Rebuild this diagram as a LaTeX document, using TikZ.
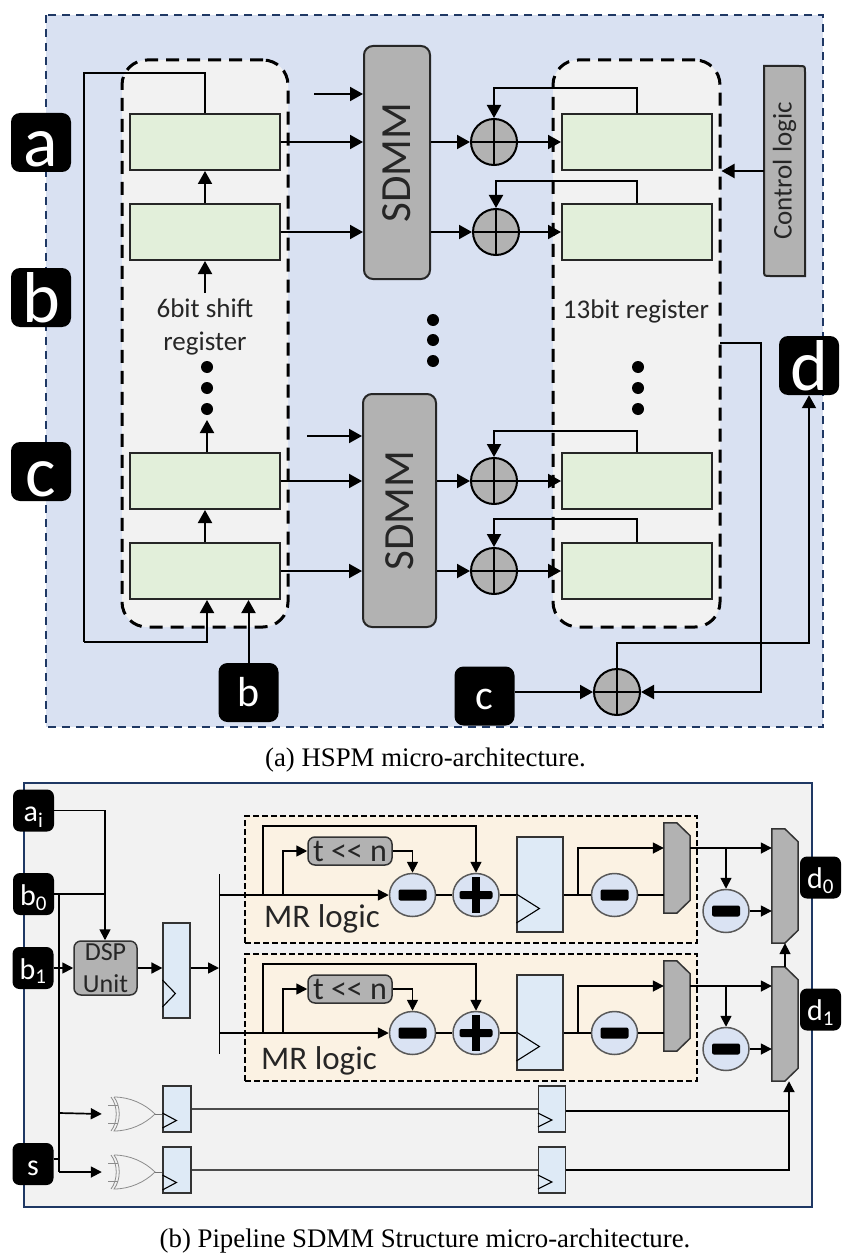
\documentclass[tikz,border=0pt]{standalone}
\usepackage{fontspec}
\setmainfont{Carlito}
\newfontfamily\capfont{Liberation Serif}
\usetikzlibrary{arrows.meta,shapes.geometric}
\definecolor{hspmbg}{HTML}{D9E1F2}
\definecolor{panelbg}{HTML}{F2F2F2}
\definecolor{greenreg}{HTML}{E2EFDA}
\definecolor{grayunit}{HTML}{B2B2B2}
\definecolor{navyline}{HTML}{1F3864}
\definecolor{bluereg}{HTML}{DEEAF6}
\definecolor{mrbg}{HTML}{FBF2E3}
\definecolor{subfill}{HTML}{DAE3F3}
\tikzset{
  arr/.style={-{Triangle[length=13pt,width=14pt]},line width=2pt},
  arrb/.style={-{Triangle[length=11pt,width=11pt]},line width=1.7pt},
  lineb/.style={line width=1.7pt},
  container/.style={draw,fill=panelbg,line width=3pt,dash pattern=on 13pt off 8pt,rounded corners=25pt},
  regbox/.style={draw=black!85,fill=greenreg,line width=2pt,minimum width=150,minimum height=56,inner sep=0},
  sdmmbox/.style={draw=black!85,fill=grayunit,line width=2pt,rounded corners=9pt,inner sep=0},
  adder/.style={circle,draw,fill=grayunit,line width=2pt,minimum size=46,inner sep=0,
    path picture={\draw[line width=2pt] (path picture bounding box.north) -- (path picture bounding box.south)
      (path picture bounding box.west) -- (path picture bounding box.east);}},
  tagbig/.style={fill=black,rounded corners=9pt,text=white,inner sep=0,minimum width=60,text height=54,text depth=5,
    font=\fontsize{72}{72}\selectfont},
  tagmid/.style={fill=black,rounded corners=9pt,text=white,inner sep=0,minimum width=60,text height=43,text depth=16,
    font=\fontsize{42}{42}\selectfont},
  tagsmall/.style={fill=black,rounded corners=7pt,text=white,inner sep=0,minimum width=41,text height=32,text depth=10,
    font=\fontsize{30}{30}\selectfont},
  bigdot/.style={circle,fill=black,inner sep=0,minimum size=12},
  txtlab/.style={inner sep=0,text=black!85,font=\fontsize{27}{33}\selectfont,align=center},
  sdmmtxt/.style={inner sep=0,text=black!85,rotate=90,font=\fontsize{43}{43}\selectfont},
  caplab/.style={inner sep=0,font=\capfont\fontsize{26.8}{26.8}\selectfont},
  pipereg/.style={draw=black!80,fill=bluereg,line width=1.2pt,inner sep=0},
  clockmark/.style={draw=black,line width=1.1pt},
  subtr/.style={ellipse,draw=black!65,fill=subfill,line width=1.5pt,minimum width=46,minimum height=43,inner sep=0,
    path picture={\fill[black,rounded corners=2pt] ([xshift=-14pt,yshift=-5.5pt]path picture bounding box.center) rectangle ++(28pt,11pt);}},
  addb/.style={subtr,
    path picture={\fill[black,rounded corners=2pt] ([xshift=-16.5pt,yshift=-4pt]path picture bounding box.center) rectangle ++(33pt,8pt);
      \fill[black] ([xshift=-4pt,yshift=-18pt]path picture bounding box.center) rectangle ++(8pt,36pt);}},
  mrbox/.style={draw,fill=mrbg,line width=2pt,dash pattern=on 6pt off 3pt,minimum width=452,minimum height=127,inner sep=0},
  unitb/.style={draw=black!80,fill=grayunit,line width=1.5pt,rounded corners=7pt,inner sep=0},
  ghost/.style={inner sep=0,minimum width=26},
  muxfill/.style={draw=black!80,fill=grayunit,line width=1.5pt},
  xorline/.style={draw=black!45,line width=0.8pt},
}
\newcommand{\chamfer}[1]{\draw[muxfill] (#1.north west) -- ([xshift=13pt]#1.north west) -- ([yshift=-13pt]#1.north east)
  -- ([yshift=13pt]#1.south east) -- ([xshift=13pt]#1.south west) -- (#1.south west) -- cycle;}
\newcommand{\xorgate}[1]{\begin{scope}[shift={(#1)}]
    \draw[xorline] (-19,-17) .. controls (-3,-17) and (12,-10) .. (22,0) .. controls (12,10) and (-3,17) .. (-19,17)
      .. controls (-12,8) and (-12,-8) .. (-19,-17);
    \draw[xorline] (-22,-17) .. controls (-15,-8) and (-15,8) .. (-22,17);
    \draw[xorline] (-25,-9) -- (-15,-9) (-25,9) -- (-15,9);
  \end{scope}}
\begin{document}
\begin{tikzpicture}[x=1pt,y=-1pt]
  \useasboundingbox (0,0) rectangle (846,1257);

  \draw[draw=navyline,fill=hspmbg,line width=1.5pt,dash pattern=on 8pt off 6pt] (46,15) rectangle (823,727);
  \node[container,minimum width=166,minimum height=567,inner sep=0] (srbox) at (205,343.5) {};
  \node[container,minimum width=167,minimum height=567,inner sep=0] (crbox) at (636.5,343.5) {};

  \foreach \n/\y in {1/142,2/232,3/481,4/571}{
    \node[regbox] (lreg\n) at (205,\y) {};
    \node[regbox] (rreg\n) at (637,\y) {};
  }
  \node[sdmmbox,minimum width=66,minimum height=233] (sdmma) at (397,162.5) {};
  \node[sdmmbox,minimum width=73,minimum height=233] (sdmmb) at (399.5,510.5) {};
  \node[sdmmtxt] (sdmmatxt) at (sdmma.center) {SDMM};
  \node[sdmmtxt] (sdmmbtxt) at (sdmmb.center) {SDMM};
  \node[adder] (add1) at (494,142) {};
  \node[adder] (add2) at (496,232) {};
  \node[adder] (add3) at (494,481) {};
  \node[adder] (add4) at (494,571) {};
  \node[adder] (addout) at (617,692) {};

  \draw[draw=black!85,fill=grayunit,line width=2pt] (764,66) -- (799,66) .. controls (805,66) .. (805,72)
    -- (805,276) -- (770,276) .. controls (764,276) .. (764,270) -- cycle;
  \node[inner sep=0,minimum width=41,minimum height=210] (ctrl) at (784.5,171) {};
  \node[txtlab,rotate=90] (ctrltxt) at (ctrl.center) {Control logic};

  \node[txtlab] (srlabel) at (205,327) {6bit shift\\register};
  \node[txtlab] (crlabel) at (636,311) {13bit register};
  \foreach \n/\y in {1/367,2/388,3/409}{
    \node[bigdot] (ldot\n) at (207,\y) {};
    \node[bigdot] (rdot\n) at (638,\y) {};
  }
  \foreach \n/\y in {1/320,2/340,3/361}{
    \node[bigdot] (mdot\n) at (433,\y) {};
  }

  \coordinate (srtail) at (205,293);
  \coordinate (dottail) at (207,420);
  \coordinate (stuba) at (314,94);
  \coordinate (stubb) at (307,436);
  \coordinate (feedturn) at (84,642);
  \coordinate (crout) at (720,343);

  \node[tagbig] (taga) at (41,142.5) {a};
  \node[tagbig] (tagb) at (41,297.5) {b};
  \node[tagbig] (tagc) at (41,471.5) {c};
  \node[tagbig] (tagd) at (809,365.5) {d};
  \node[tagmid] (tagbin) at (248.5,692.5) {b};
  \node[tagmid] (tagcin) at (484.5,696) {c};

  \draw[arr] (lreg2.north) -- (lreg1.south);
  \draw[arr] (lreg4.north) -- (lreg3.south);
  \draw[arr] (srtail) -- (lreg2.south);
  \draw[arr] (lreg3.north -| dottail) -- (dottail);
  \foreach \n in {1,2}{
    \draw[arr] (lreg\n.east) -- (lreg\n.east -| sdmma.west);
    \draw[arr] (add\n -| sdmma.east) -- (add\n.west);
  }
  \foreach \n in {3,4}{
    \draw[arr] (lreg\n.east) -- (lreg\n.east -| sdmmb.west);
    \draw[arr] (add\n -| sdmmb.east) -- (add\n.west);
  }
  \foreach \n/\off in {1/25,2/22,3/21,4/23}{
    \draw[arr] (add\n.east) -- (rreg\n.west);
    \draw[arr] (rreg\n.north) -- ++(0,-\off) -| (add\n.north);
  }
  \draw[arr] (stuba) -- (stuba -| sdmma.west);
  \draw[arr] (stubb) -- (stubb -| sdmmb.west);
  \draw[line width=2pt] (lreg1.north) -- ++(0,-40) -| (feedturn);
  \draw[arr] (feedturn) -| ([xshift=2pt]lreg4.south);
  \draw[arr] (tagbin.north) -- (tagbin.north |- lreg4.south);
  \draw[arr] (ctrl.west) -- (crbox.east |- ctrl.west);
  \draw[arr] (crout) -| (761,692) -- (addout.east);
  \draw[arr] (tagcin.east |- addout) -- (addout.west);
  \draw[arr] (addout.north) -- ++(0,-25) -| (tagd.south);

  \draw[navyline,fill=panelbg,line width=1.5pt] (24,783) rectangle (812,1207);

  \foreach \n/\d/\tx/\ty in {a/0/322/919,b/138/319/923}{
    \begin{scope}[shift={(0,\d)}]
      \node[mrbox] (mr\n) at (471,879.5) {};
      \node[unitb,minimum width=84,minimum height=28] (shift\n) at (350,851) {};
      \node[inner sep=0,font=\fontsize{32}{32}\selectfont,text=black!85] (shifttxt\n) at (350,851) {t \mbox{<}\mbox{<} n};
      \node[inner sep=0,font=\fontsize{33}{33}\selectfont,text=black!85] (mrtxt\n) at (\tx,\ty) {MR logic};
      \node[subtr] (suba\n) at (412.5,895) {};
      \node[addb] (adda\n) at (476,895) {};
      \node[pipereg,minimum width=46,minimum height=95] (reg\n) at (540,884.5) {};
      \node[subtr] (subb\n) at (614.5,895) {};
      \node[ghost,minimum height=90] (mux\n) at (677,868) {};
      \node[ghost,minimum height=114] (bigmux\n) at (785,886) {};
      \node[subtr] (subc\n) at (726,911) {};
      \chamfer{mux\n}
      \chamfer{bigmux\n}
      \draw[clockmark] (reg\n.west |- 0,894) -- ++(23,14.5) -- ++(-23,14.5);
      \coordinate (bus\n) at (219,895);
      \coordinate (tapa\n) at (263,895);
      \coordinate (tapb\n) at (283,895);
      \coordinate (tapc\n) at (578,895);
      \coordinate (tapd\n) at (726,848);
      \draw[arrb] (bus\n) -- (suba\n.west);
      \draw[arrb] (tapa\n) |- (450,826) -| (adda\n.north);
      \draw[arrb] (tapb\n) |- (shift\n.west);
      \draw[arrb] (shift\n.east) -| (suba\n.north);
      \draw[lineb] (suba\n.east) -- (adda\n.west);
      \draw[lineb] (adda\n.east) -- (reg\n.west |- adda\n);
      \draw[lineb] (reg\n.east |- subb\n) -- (subb\n.west);
      \draw[lineb] (subb\n.east) -- (subb\n -| mux\n.west);
      \draw[arrb] (tapc\n) |- (tapc\n |- tapd\n) -- (tapd\n -| mux\n.west);
      \draw[arrb] (tapd\n -| mux\n.east) -- (tapd\n -| bigmux\n.west);
      \draw[arrb] (tapd\n) -- (subc\n.north);
      \draw[arrb] (subc\n.east) -- (subc\n -| bigmux\n.west);
    \end{scope}
  }
  \draw[arrb] (bigmuxb.north) -- (bigmuxa.south);

  \node[pipereg,minimum width=27,minimum height=95] (regin) at (176.5,970.5) {};
  \draw[clockmark] (regin.west |- 0,980) -- ++(13,13.5) -- ++(-13,13.5);
  \node[unitb,minimum width=63,minimum height=54,align=center,font=\fontsize{26}{32}\selectfont,text=black!85] (dsp) at (105.5,968) {DSP\\Unit};

  \foreach \n/\yc/\ty in {c/1109/1113,d/1170/1175}{
    \node[pipereg,minimum width=28,minimum height=46] (pl\n) at (177,\yc) {};
    \node[pipereg,minimum width=27,minimum height=46] (pr\n) at (552,\yc) {};
    \draw[clockmark] (pl\n.west |- 0,\ty) -- ++(14,7.5) -- ++(-14,7.5);
    \draw[clockmark] (pr\n.west |- 0,\ty) -- ++(14,7) -- ++(-14,7);
  }
  \node[ghost,minimum width=44,minimum height=36] (xorc) at (133,1114) {};
  \node[ghost,minimum width=44,minimum height=36] (xord) at (133,1172) {};
  \xorgate{133,1114}
  \xorgate{133,1172}

  \node[tagsmall] (tagai) at (33.5,810.5) {a\textsubscript{i}};
  \node[tagsmall] (tagbo) at (33.5,894) {b\textsubscript{0}};
  \node[tagsmall] (tagbi) at (33,968) {b\textsubscript{1}};
  \node[tagsmall] (tags) at (33,1164) {s};
  \node[tagsmall] (tagdo) at (820.5,877.5) {d\textsubscript{0}};
  \node[tagsmall] (tagdi) at (820.5,1009.5) {d\textsubscript{1}};

  \coordinate (trunk) at (59,894);
  \coordinate (xorctail) at (59,1113);
  \coordinate (xordtail) at (59,1172);
  \coordinate (bustop) at (219,874);
  \coordinate (busbot) at (219,1054);
  \coordinate (joinab) at (105,894);
  \coordinate (muxin) at (789,1111);

  \draw[line width=1pt] (bustop) -- (busbot);
  \draw[arrb] (tagai.east) -| (dsp.north -| joinab);
  \draw[lineb] (tagbo.east) -- (joinab);
  \draw[lineb] (trunk) -- (xordtail);
  \draw[lineb] (tags.east |- 0,1159) -- (59,1159);
  \draw[arrb] (xorctail) -- ([xshift=-9pt]xorc.west);
  \draw[arrb] (xordtail) -- ([xshift=-9pt]xord.west);
  \draw[arrb] (tagbi.east) -- (dsp.west);
  \draw[arrb] (dsp.east) -- (dsp.east -| regin.west);
  \draw[arrb] (regin.east |- dsp) -- (busa |- dsp);
  \draw[black!55,line width=0.9pt] (xorc.east) -- (plc.west |- xorc);
  \draw[black!55,line width=0.9pt] (xord.east) -- (pld.west |- xord);
  \draw[black!70,line width=1.2pt] (plc.east) -- (prc.west);
  \draw[black!70,line width=1.2pt] (pld.east) -- (prd.west);
  \draw[line width=2pt] (prc.east |- muxin) -- (muxin);
  \draw[arrb,line width=2pt] (prd.east) -| (bigmuxb.south -| muxin);

  \node[caplab] (capa) at (425.5,760) {(a) HSPM micro-architecture.};
  \node[caplab] (capb) at (425,1241) {(b) Pipeline SDMM Structure micro-architecture.};
\end{tikzpicture}
\end{document}
